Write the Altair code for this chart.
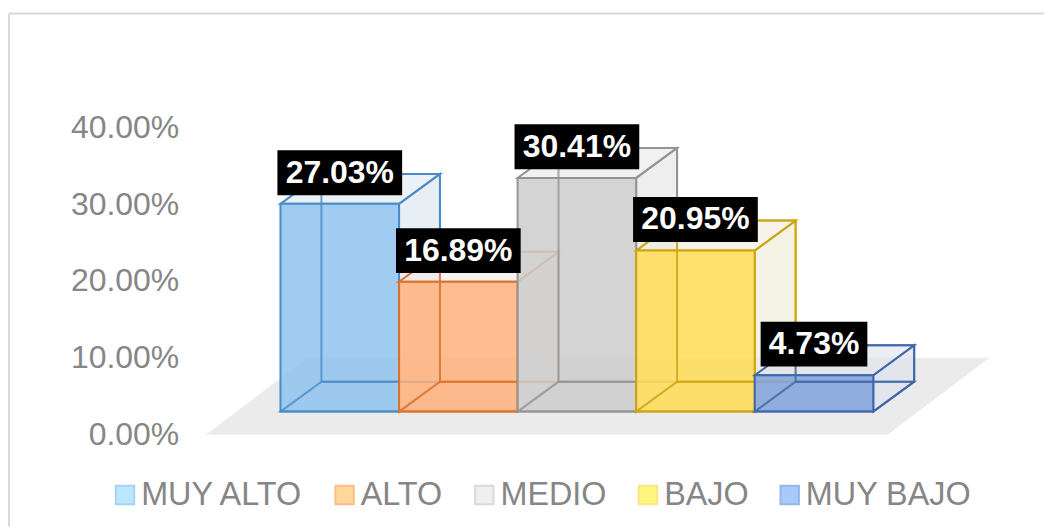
import altair as alt
import pandas as pd

categories = ["MUY ALTO", "ALTO", "MEDIO", "BAJO", "MUY BAJO"]
values = [27.03, 16.89, 30.41, 20.95, 4.73]
labels = ["27.03%", "16.89%", "30.41%", "20.95%", "4.73%"]
front_colors = ["#8fc3f0", "#ffb07a", "#cccccc", "#ffdd55", "#7fa2dc"]
edge_colors = ["#4a8cc8", "#dc7229", "#949494", "#cda512", "#3f68aa"]
pale_colors = ["#dfe8f0", "#f3ebe6", "#e8e8e8", "#f0ecdc", "#dfe3ec"]
legend_fill = ["#bde6ff", "#ffd79c", "#efefef", "#fff67f", "#a9c9f8"]
legend_edge = ["#a3d4f7", "#fbbf85", "#d9d9d9", "#fbe77f", "#94b6ea"]
y_ticks = [0, 10, 20, 30, 40]

FONT = "Liberation Sans"
W, H = 1037, 514
# x in bar-widths, y in percent
X_DOM = [-2.29, 6.44]
Y_DOM = [-11.95, 54.8]
BASE = 3.0       # height of the bars' front base over the zero line
DX, DY = 0.345, 3.9   # depth of the 3-D box
xs = alt.Scale(domain=X_DOM, range=[0, W], nice=False, zero=False)
ys = alt.Scale(domain=Y_DOM, range=[H, 0], nice=False, zero=False)
y_axis = alt.Axis(
    values=y_ticks, title=None, ticks=False, domain=False, grid=False,
    labelExpr="format(datum.value/100,'.2%')",
    labelFont=FONT, labelFontSize=32, labelColor="#868686",
    offset=-170, labelPadding=0)


def poly(points, fill, stroke=None, fill_opacity=1.0, stroke_opacity=1.0, sw=2):
    df = pd.DataFrame(points, columns=["x", "y"])
    df["o"] = range(len(df))
    kw = dict(interpolate="linear-closed", fill=fill, fillOpacity=fill_opacity,
              clip=False)
    if stroke:
        kw.update(stroke=stroke, strokeWidth=sw, strokeOpacity=stroke_opacity)
    else:
        kw.update(strokeWidth=0)
    return alt.Chart(df).mark_line(**kw).encode(
        x=alt.X("x:Q", scale=xs, axis=None),
        y=alt.Y("y:Q", scale=ys, title=None, axis=y_axis),
        order="o:Q",
    )


layers = []

# Chart frame: top and left edges only
top_df = pd.DataFrame({"x": [X_DOM[0]], "x2": [X_DOM[1]], "y": [Y_DOM[1]]})
left_df = pd.DataFrame({"x": [X_DOM[0]], "y": [Y_DOM[0]], "y2": [Y_DOM[1]]})
layers.append(alt.Chart(top_df).mark_rule(color="#d9d9d9", strokeWidth=2).encode(
    x=alt.X("x:Q", scale=xs, axis=None), x2="x2:Q",
    y=alt.Y("y:Q", scale=ys, title=None, axis=y_axis)))
layers.append(alt.Chart(left_df).mark_rule(color="#d9d9d9", strokeWidth=2).encode(
    x=alt.X("x:Q", scale=xs, axis=None),
    y=alt.Y("y:Q", scale=ys, title=None, axis=y_axis), y2="y2:Q"))

# Floor
layers.append(poly([(-0.63, 0), (5.12, 0), (5.98, 10), (0.23, 10)], "#ebebeb"))

# Boxes, left to right
for i, v in enumerate(values):
    top = BASE + v
    l, r = float(i), float(i + 1)
    fc, ec, pc = front_colors[i], edge_colors[i], pale_colors[i]
    # side and top
    layers.append(poly([(r, BASE), (r + DX, BASE + DY), (r + DX, top + DY), (r, top)],
                       pc, ec, fill_opacity=0.75))
    layers.append(poly([(l, top), (r, top), (r + DX, top + DY), (l + DX, top + DY)],
                       pc, ec, fill_opacity=0.6))
    # front
    layers.append(poly([(l, BASE), (r, BASE), (r, top), (l, top)],
                       fc, ec, fill_opacity=0.85))
    # back + floor inner edges, seen through the front
    layers.append(poly([(l + DX, BASE + DY), (r + DX, BASE + DY),
                        (r + DX, top + DY), (l + DX, top + DY)], "#ffffff",
                       ec, fill_opacity=0, stroke_opacity=0.8))
    layers.append(poly([(l, BASE), (r, BASE), (r + DX, BASE + DY), (l + DX, BASE + DY)],
                       "#ffffff", ec, fill_opacity=0, stroke_opacity=0.8))

# Data labels
lab = pd.DataFrame({
    "cat": categories,
    "label": labels,
    "cx": [i + 0.5 for i in range(len(values))],
    "cy": [BASE + v + DY + 0.15 for v in values],
})
lab["hw"] = [0.526 if v >= 10 else 0.45 for v in values]
lab["x1"] = lab.cx - lab.hw
lab["x2"] = lab.cx + lab.hw
lab["y1"] = lab.cy - 2.92
lab["y2"] = lab.cy + 2.92
layers.append(alt.Chart(lab).mark_rect(color="#000000").encode(
    x=alt.X("x1:Q", scale=xs, axis=None), x2="x2:Q",
    y=alt.Y("y1:Q", scale=ys, title=None, axis=y_axis), y2="y2:Q"))
layers.append(alt.Chart(lab).mark_text(
    color="#ffffff", font=FONT, fontSize=32, fontWeight="bold").encode(
    x=alt.X("cx:Q", scale=xs, axis=None),
    y=alt.Y("cy:Q", scale=ys, title=None, axis=y_axis),
    text="label:N"))

# Legend carrier
layers.append(alt.Chart(lab).mark_square(size=0, strokeWidth=2, filled=False).encode(
    x=alt.X("cx:Q", scale=xs, axis=None),
    y=alt.Y("cy:Q", scale=ys, title=None, axis=y_axis),
    fill=alt.Fill("cat:N", sort=categories,
                  scale=alt.Scale(domain=categories, range=legend_fill),
                  legend=alt.Legend(
                      title=None, orient="none", legendX=100, legendY=466,
                      direction="horizontal", columns=5, columnPadding=25,
                      symbolType="square", symbolSize=340, symbolStrokeWidth=2,
                      labelOffset=0,
                      labelFont=FONT, labelFontSize=32.4, labelColor="#868686",
                      labelLimit=300, symbolOpacity=1)),
    stroke=alt.Stroke("cat:N", sort=categories,
                      scale=alt.Scale(domain=categories, range=legend_edge),
                      legend=None),
))

chart = alt.layer(*layers).properties(
    width=W, height=H,
    padding={"left": 0, "top": 4, "right": 0, "bottom": 0},
    background="#ffffff",
).configure_view(stroke=None)

chart.save("out.html", embed_options={"renderer": "svg", "actions": False})
